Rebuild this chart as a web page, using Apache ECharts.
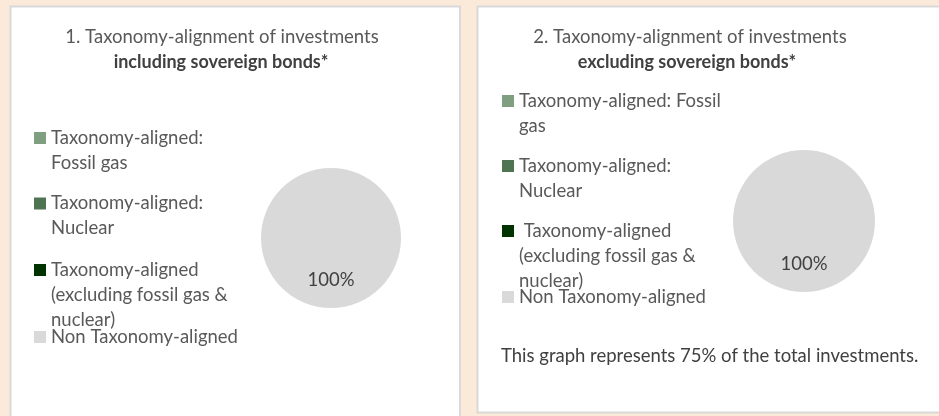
<!DOCTYPE html>
<html>
<head>
<meta charset="utf-8">
<title>Taxonomy-alignment of investments</title>
<script src="https://cdn.jsdelivr.net/npm/echarts@6/dist/echarts.min.js"></script>
<style>
  html, body { margin: 0; padding: 0; background: #fbe9d9; }
  #chart { width: 939px; height: 416px; }
</style>
</head>
<body>
<div id="chart"></div>
<script>
// Portfolio breakdown shown in both panels
const categories = [
  'Taxonomy-aligned: Fossil gas',
  'Taxonomy-aligned: Nuclear',
  'Taxonomy-aligned (excluding fossil gas & nuclear)',
  'Non Taxonomy-aligned'
];
const valuesInclSovereign = [0, 0, 0, 100];
const valuesExclSovereign = [0, 0, 0, 100];

// Legend wording, wrapped the way each panel shows it
const legendLabelsIncl = [
  'Taxonomy-aligned:\nFossil gas',
  'Taxonomy-aligned:\nNuclear',
  'Taxonomy-aligned\n(excluding fossil gas &\nnuclear)',
  'Non Taxonomy-aligned'
];
const legendLabelsExcl = [
  'Taxonomy-aligned: Fossil\ngas',
  'Taxonomy-aligned:\nNuclear',
  ' Taxonomy-aligned\n(excluding fossil gas &\nnuclear)',
  'Non Taxonomy-aligned'
];

const panelTitles = ['1. Taxonomy-alignment of investments', '2. Taxonomy-alignment of investments'];
const panelSubtitles = ['including sovereign bonds*', 'excluding sovereign bonds*'];
const footnote = 'This graph represents 75% of the total investments.';

// Slice colours
const sliceColors = ['#7f9f80', '#4f7452', '#013301', '#d9d9d9'];

const FONT = 'Lato';
const FS = 18.5;
const LH = 25;
const MARK = 12;

function pieData(values) {
  return categories.map((name, i) => ({
    name,
    value: values[i],
    itemStyle: { color: sliceColors[i] }
  }));
}

// Legend marker as a path as tall as the whole text block, with the
// square drawn level with the first line (the stray points fix the bounds).
function markerPath(lines) {
  const h = lines * LH;
  const y0 = (LH - MARK) / 2, y1 = y0 + MARK;
  return 'path://M0,0L0,0M' + MARK + ',' + h + 'L' + MARK + ',' + h +
    'M0,' + y0 + 'L' + MARK + ',' + y0 + 'L' + MARK + ',' + y1 + 'L0,' + y1 + 'Z';
}

// One legend component per entry so each sits at its own row.
function buildLegends(labels, iconLeft, firstLineCenters) {
  return categories.map((name, i) => {
    const n = labels[i].split('\n').length;
    return {
      orient: 'vertical',
      left: iconLeft,
      top: firstLineCenters[i] - LH / 2,
      padding: 0,
      itemWidth: MARK,
      itemHeight: n * LH,
      icon: markerPath(n),
      selectedMode: false,
      data: [name],
      formatter: () => labels[i],
      textStyle: {
        fontFamily: FONT,
        fontSize: FS,
        lineHeight: LH,
        color: '#595959'
      }
    };
  });
}

function pieSeries(values, center, radius) {
  return {
    type: 'pie',
    center,
    radius,
    startAngle: 90,
    clockwise: true,
    silent: true,
    stillShowZeroSum: true,
    itemStyle: { borderWidth: 0 },
    emphasis: { disabled: true },
    labelLine: { show: false },
    label: {
      show: true,
      position: 'inside',
      fontFamily: FONT,
      fontSize: FS,
      lineHeight: 9,
      color: '#404040',
      formatter: p => (p.value ? '\n' + Math.round(p.percent) + '%' : '')
    },
    data: pieData(values)
  };
}

function titleText(x, y, text, bold) {
  return {
    type: 'text',
    x, y,
    silent: true,
    style: {
      text,
      fontFamily: FONT,
      fontSize: bold ? 18 : FS,
      fontWeight: bold ? 'bold' : 'normal',
      fill: bold ? '#404040' : '#595959',
      align: 'center',
      verticalAlign: 'middle'
    }
  };
}

const chart = echarts.init(document.getElementById('chart'), null, { renderer: 'canvas' });

chart.setOption({
  backgroundColor: '#fbe9d9',
  animation: false,
  tooltip: { show: false },
  legend: [
    ...buildLegends(legendLabelsIncl, 34, [138, 203.5, 270, 337]),
    ...buildLegends(legendLabelsExcl, 502, [101, 166, 231, 297])
  ],
  graphic: [
    {
      type: 'rect', z: -10, silent: true,
      shape: { x: 10.5, y: 6.5, width: 449.5, height: 420 },
      style: { fill: '#ffffff', stroke: '#d9d9d9', lineWidth: 2 }
    },
    {
      type: 'rect', z: -10, silent: true,
      shape: { x: 477.5, y: 6.5, width: 470, height: 406 },
      style: { fill: '#ffffff', stroke: '#d9d9d9', lineWidth: 2 }
    },
    titleText(222, 37, panelTitles[0], false),
    titleText(221, 62, panelSubtitles[0], true),
    titleText(690, 37, panelTitles[1], false),
    titleText(687, 62, panelSubtitles[1], true),
    {
      type: 'text', x: 501, y: 356, silent: true,
      style: {
        text: footnote,
        fontFamily: FONT,
        fontSize: FS,
        fill: '#404040',
        align: 'left',
        verticalAlign: 'middle'
      }
    }
  ],
  series: [
    pieSeries(valuesInclSovereign, [331, 238], 70),
    pieSeries(valuesExclSovereign, [804, 221], 71)
  ]
});
</script>
</body>
</html>
